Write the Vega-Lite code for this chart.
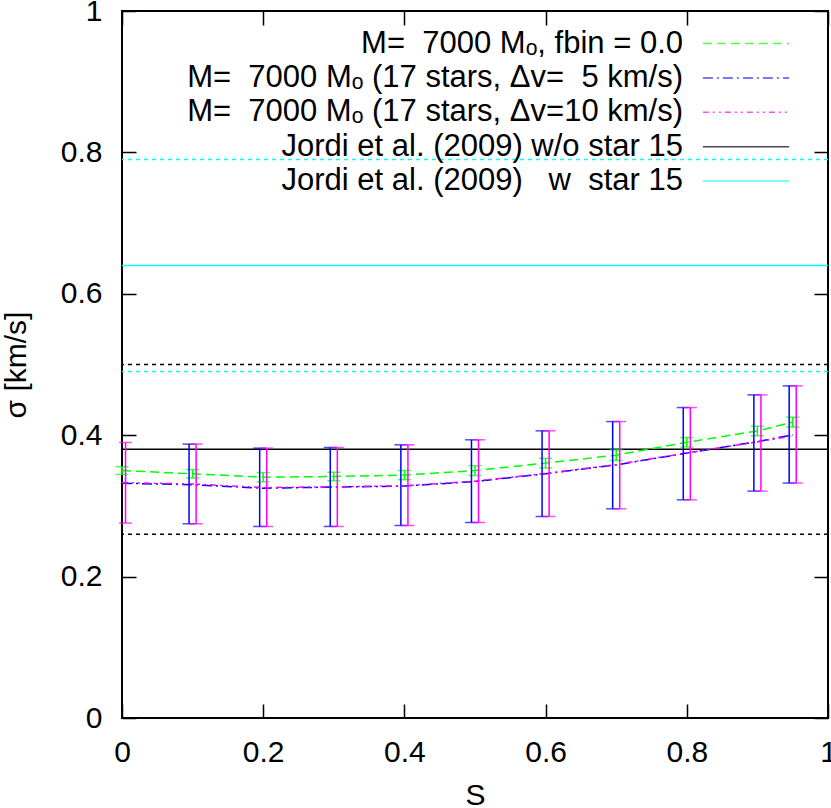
{
  "$schema": "https://vega.github.io/schema/vega-lite/v6.json",
  "width": 706,
  "height": 707,
  "autosize": {"type": "none"},
  "padding": {"left": 122, "top": 11, "right": 3, "bottom": 90},
  "background": "white",
  "config": {
    "view": {"stroke": "black", "strokeWidth": 2},
    "axis": {
      "domain": false,
      "ticks": false,
      "grid": true,
      "gridColor": "black",
      "gridOpacity": 1,
      "gridWidth": 1.5,
      "labelFont": "Liberation Sans",
      "labelFontSize": 30,
      "labelColor": "black",
      "labelFlush": false,
      "labelOverlap": false,
      "titleFont": "Liberation Sans",
      "titleFontSize": 30,
      "titleFontWeight": "normal",
      "titleColor": "black"
    },
    "axisX": {"gridDash": [14, 679, 14, 3000]},
    "axisY": {"gridDash": [14, 678, 14, 3000]}
  },
  "datasets": {
    "curves": [
      {"series": "f0", "S": 0, "sigma": 0.350},
      {"series": "f0", "S": 0.1, "sigma": 0.3454},
      {"series": "f0", "S": 0.2, "sigma": 0.3407},
      {"series": "f0", "S": 0.3, "sigma": 0.3416},
      {"series": "f0", "S": 0.4, "sigma": 0.3436},
      {"series": "f0", "S": 0.5, "sigma": 0.350},
      {"series": "f0", "S": 0.6, "sigma": 0.3605},
      {"series": "f0", "S": 0.7, "sigma": 0.3718},
      {"series": "f0", "S": 0.8, "sigma": 0.390},
      {"series": "f0", "S": 0.9, "sigma": 0.406},
      {"series": "f0", "S": 0.95, "sigma": 0.4185},
      {"series": "d5", "S": 0, "sigma": 0.332},
      {"series": "d5", "S": 0.1, "sigma": 0.330},
      {"series": "d5", "S": 0.2, "sigma": 0.325},
      {"series": "d5", "S": 0.3, "sigma": 0.3266},
      {"series": "d5", "S": 0.4, "sigma": 0.328},
      {"series": "d5", "S": 0.5, "sigma": 0.3345},
      {"series": "d5", "S": 0.6, "sigma": 0.3454},
      {"series": "d5", "S": 0.7, "sigma": 0.358},
      {"series": "d5", "S": 0.8, "sigma": 0.3747},
      {"series": "d5", "S": 0.9, "sigma": 0.391},
      {"series": "d5", "S": 0.95, "sigma": 0.4005},
      {"series": "d10", "S": 0, "sigma": 0.333},
      {"series": "d10", "S": 0.1, "sigma": 0.331},
      {"series": "d10", "S": 0.2, "sigma": 0.326},
      {"series": "d10", "S": 0.3, "sigma": 0.327},
      {"series": "d10", "S": 0.4, "sigma": 0.3285},
      {"series": "d10", "S": 0.5, "sigma": 0.335},
      {"series": "d10", "S": 0.6, "sigma": 0.346},
      {"series": "d10", "S": 0.7, "sigma": 0.3585},
      {"series": "d10", "S": 0.8, "sigma": 0.375},
      {"series": "d10", "S": 0.9, "sigma": 0.3905},
      {"series": "d10", "S": 0.95, "sigma": 0.399}
    ],
    "bars": [
      {"series": "f0", "S": 0, "lo": 0.3445, "hi": 0.3555},
      {"series": "f0", "S": 0.1, "lo": 0.3394, "hi": 0.3514},
      {"series": "f0", "S": 0.2, "lo": 0.3342, "hi": 0.3472},
      {"series": "f0", "S": 0.3, "lo": 0.3356, "hi": 0.3476},
      {"series": "f0", "S": 0.4, "lo": 0.3371, "hi": 0.3501},
      {"series": "f0", "S": 0.5, "lo": 0.343, "hi": 0.357},
      {"series": "f0", "S": 0.6, "lo": 0.3537, "hi": 0.3673},
      {"series": "f0", "S": 0.7, "lo": 0.3643, "hi": 0.3793},
      {"series": "f0", "S": 0.8, "lo": 0.3833, "hi": 0.3967},
      {"series": "f0", "S": 0.9, "lo": 0.3993, "hi": 0.4127},
      {"series": "f0", "S": 0.95, "lo": 0.4115, "hi": 0.4255},
      {"series": "d5", "S": -0.005, "lo": 0.2757, "hi": 0.3897},
      {"series": "d5", "S": 0.095, "lo": 0.2747, "hi": 0.3874},
      {"series": "d5", "S": 0.195, "lo": 0.2709, "hi": 0.3817},
      {"series": "d5", "S": 0.295, "lo": 0.2709, "hi": 0.3826},
      {"series": "d5", "S": 0.395, "lo": 0.2723, "hi": 0.3864},
      {"series": "d5", "S": 0.495, "lo": 0.2765, "hi": 0.3935},
      {"series": "d5", "S": 0.595, "lo": 0.285, "hi": 0.4062},
      {"series": "d5", "S": 0.695, "lo": 0.2959, "hi": 0.4193},
      {"series": "d5", "S": 0.795, "lo": 0.3086, "hi": 0.4391},
      {"series": "d5", "S": 0.895, "lo": 0.3209, "hi": 0.4571},
      {"series": "d5", "S": 0.945, "lo": 0.3323, "hi": 0.4698},
      {"series": "d10", "S": 0.005, "lo": 0.2757, "hi": 0.3897},
      {"series": "d10", "S": 0.105, "lo": 0.2747, "hi": 0.3874},
      {"series": "d10", "S": 0.205, "lo": 0.2709, "hi": 0.3817},
      {"series": "d10", "S": 0.305, "lo": 0.2709, "hi": 0.3826},
      {"series": "d10", "S": 0.405, "lo": 0.2723, "hi": 0.3864},
      {"series": "d10", "S": 0.505, "lo": 0.2765, "hi": 0.3935},
      {"series": "d10", "S": 0.605, "lo": 0.285, "hi": 0.4062},
      {"series": "d10", "S": 0.705, "lo": 0.2959, "hi": 0.4193},
      {"series": "d10", "S": 0.805, "lo": 0.3086, "hi": 0.4391},
      {"series": "d10", "S": 0.905, "lo": 0.3209, "hi": 0.4571},
      {"series": "d10", "S": 0.955, "lo": 0.3323, "hi": 0.4698}
    ],
    "jordi": [
      {"series": "jwo", "kind": "mean", "sigma": 0.38},
      {"series": "jwo", "kind": "bound", "sigma": 0.26},
      {"series": "jwo", "kind": "bound", "sigma": 0.50},
      {"series": "jw", "kind": "mean", "sigma": 0.64},
      {"series": "jw", "kind": "bound", "sigma": 0.49},
      {"series": "jw", "kind": "bound", "sigma": 0.79}
    ]
  },
  "layer": [
    {
      "encoding": {
        "color": {
          "field": "series",
          "type": "nominal",
          "scale": {
            "domain": ["f0", "d5", "d10", "jwo", "jw"],
            "range": ["#00ff00", "#0000ff", "#ff00ff", "#000000", "#00ffff"]
          },
          "legend": {
            "title": null,
            "orient": "none",
            "legendX": 606,
            "legendY": 14.5,
            "symbolType": "M-2.5,0H2.5",
            "symbolSize": 1190,
            "symbolStrokeWidth": 1.5,
            "symbolFillColor": "transparent",
            "labelAlign": "right",
            "labelOffset": -81,
            "labelFontSize": 31,
            "labelFont": "Liberation Sans",
            "labelColor": "black",
            "labelLimit": 800,
            "padding": 0,
            "rowPadding": 1.4,
            "labelExpr": "datum.label == 'f0' ? 'M=\u00a0 7000 Mₒ, fbin = 0.0' : datum.label == 'd5' ? 'M=\u00a0 7000 Mₒ (17 stars, Δv=\u00a0 5 km/s)' : datum.label == 'd10' ? 'M=\u00a0 7000 Mₒ (17 stars, Δv=10 km/s)' : datum.label == 'jwo' ? 'Jordi et al. (2009) w/o star 15' : 'Jordi et al. (2009)\u00a0 \u00a0w\u00a0 star 15'"
          }
        }
      },
      "layer": [
        {
          "data": {"name": "jordi"},
          "transform": [{"filter": "datum.kind == 'bound'"}],
          "mark": {"type": "rule", "strokeWidth": 1.5, "strokeDash": [4, 4]},
          "encoding": {
            "y": {"field": "sigma", "type": "quantitative", "title": "σ [km/s]", "scale": {"domain": [0, 1], "nice": false}}
          }
        },
        {
          "data": {"name": "jordi"},
          "transform": [{"filter": "datum.kind == 'mean'"}],
          "mark": {"type": "rule", "strokeWidth": 1.5},
          "encoding": {
            "y": {
              "field": "sigma", "type": "quantitative", "title": "σ [km/s]",
              "scale": {"domain": [0, 1], "nice": false},
              "axis": {"orient": "left", "labelPadding": 20, "titlePadding": 29, "values": [0, 0.2, 0.4, 0.6, 0.8, 1], "format": "~g", "gridDash": [14, 678, 14, 3000]}
            },
            "strokeDash": {
              "field": "series", "type": "nominal",
              "scale": {
                "domain": ["f0", "d5", "d10", "jwo", "jw"],
                "range": [[9, 5], [10, 4, 2, 4], [6, 4, 2, 4, 2, 4], [1, 0], [1, 0]]
              },
              "legend": {
                "title": null,
                "orient": "none",
                "legendX": 606,
                "legendY": 14.5,
                "symbolType": "M-2.5,0H2.5",
                "symbolSize": 1190,
                "symbolStrokeWidth": 1.5,
                "symbolFillColor": "transparent",
                "labelAlign": "right",
                "labelOffset": -81,
                "labelFontSize": 31,
                "labelFont": "Liberation Sans",
                "labelColor": "black",
                "labelLimit": 800,
                "padding": 0,
                "rowPadding": 1.4,
                "labelExpr": "datum.label == 'f0' ? 'M=\u00a0 7000 Mₒ, fbin = 0.0' : datum.label == 'd5' ? 'M=\u00a0 7000 Mₒ (17 stars, Δv=\u00a0 5 km/s)' : datum.label == 'd10' ? 'M=\u00a0 7000 Mₒ (17 stars, Δv=10 km/s)' : datum.label == 'jwo' ? 'Jordi et al. (2009) w/o star 15' : 'Jordi et al. (2009)\u00a0 \u00a0w\u00a0 star 15'"
              }
            }
          }
        },
        {
          "data": {"name": "curves"},
          "mark": {"type": "line", "strokeWidth": 1.5},
          "encoding": {
            "x": {
              "field": "S", "type": "quantitative", "title": "S",
              "scale": {"domain": [0, 1], "nice": false},
              "axis": {"orient": "bottom", "labelPadding": 19, "titlePadding": 13, "values": [0, 0.2, 0.4, 0.6, 0.8, 1], "format": "~g", "gridDash": [14, 679, 14, 3000]}
            },
            "y": {"field": "sigma", "type": "quantitative", "title": "σ [km/s]"},
            "strokeDash": {"field": "series", "type": "nominal"},
            "detail": {"field": "series"}
          }
        },
        {
          "data": {"name": "bars"},
          "transform": [{"filter": "datum.S >= 0"}],
          "mark": {"type": "errorbar", "ticks": {"size": 13, "thickness": 1.5}, "thickness": 1.5},
          "encoding": {
            "x": {"field": "S", "type": "quantitative", "title": "S"},
            "y": {"field": "lo", "type": "quantitative", "title": "σ [km/s]"},
            "y2": {"field": "hi"}
          }
        }
      ]
    },
    {
      "data": {"name": "curves"},
      "mark": {"type": "point", "opacity": 0},
      "encoding": {
        "x": {
          "field": "S", "type": "quantitative", "title": null,
          "scale": {"domain": [0, 1], "nice": false},
          "axis": {"orient": "top", "labels": false, "title": null, "values": [0, 0.2, 0.4, 0.6, 0.8, 1], "gridDash": [14, 679, 14, 3000]}
        },
        "y": {
          "field": "sigma", "type": "quantitative", "title": null,
          "scale": {"domain": [0, 1], "nice": false},
          "axis": {"orient": "right", "labels": false, "title": null, "values": [0, 0.2, 0.4, 0.6, 0.8, 1], "gridDash": [14, 678, 14, 3000]}
        }
      }
    }
  ],
  "resolve": {"axis": {"x": "independent", "y": "independent"}}
}
